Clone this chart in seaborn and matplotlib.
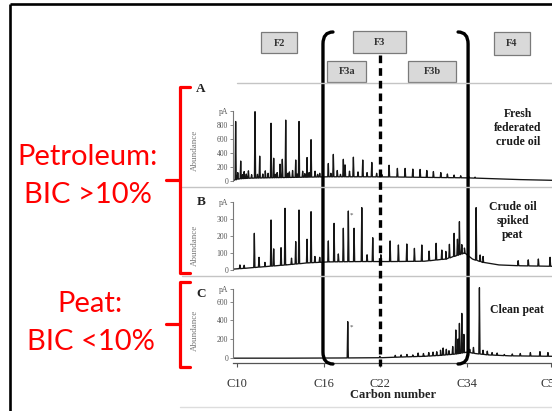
import numpy as np
import pandas as pd
import matplotlib
matplotlib.use("Agg")
import matplotlib.pyplot as plt
import seaborn as sns
from matplotlib.patches import Rectangle, PathPatch
from matplotlib.path import Path

sns.set_theme(style="white")
plt.rcParams["font.family"] = ["Liberation Serif", "DejaVu Serif"]

# ---------------------------------------------------------------- data
# carbon-number markers on the retention-time axis (min)
carbon_labels = ["C10", "C16", "C22", "C34", "C50"]
carbon_rt = [0.7, 17.1, 27.6, 44.0, 59.7]

# boiling-range fractions and where they sit along the retention axis
fraction_names = ["F2", "F3", "F4", "F3a", "F3b"]
fraction_rt = [8.7, 27.6, 52.4, 21.4, 37.4]

# A: fresh federated crude oil
a_base_rt = [0, 1, 3, 6, 10, 14, 18, 24, 30, 38, 44, 48, 54, 60]
a_base_pa = [5, 30, 40, 45, 50, 55, 60, 60, 58, 50, 45, 35, 20, 10]
a_peak_rt = [0.5, 0.9, 1.45, 1.8, 2.1, 2.5, 2.9, 3.5, 4.14, 4.6, 5.02, 5.6,
             6.07, 6.6, 7.15, 7.65, 8.0, 8.3, 8.84, 9.27, 9.91, 10.3, 10.6,
             11.2, 11.79, 12.1, 12.41, 13.1, 13.5, 13.92, 14.3, 14.67, 15.42,
             15.9, 16.3, 17.92, 18.4, 18.86, 19.6, 20.2, 20.74, 21.06, 21.9,
             22.63, 23.5, 24.39, 25.2, 26.09, 27.0, 28.0, 29.34, 30.9, 32.35,
             33.8, 35.17, 36.43, 37.67, 39.06, 40.3, 41.56, 42.8, 44.3, 45.5]
a_peak_pa = [850, 120, 285, 90, 135, 100, 145, 90, 990, 95, 355, 100,
             145, 110, 825, 325, 95, 120, 240, 310, 870, 110, 130,
             150, 300, 100, 850, 140, 105, 335, 120, 590, 140,
             95, 110, 250, 110, 380, 150, 95, 310, 230, 140,
             340, 130, 300, 120, 265, 110, 90, 225, 180, 180,
             170, 165, 150, 135, 120, 100, 85, 75, 65, 55]

# B: crude oil spiked peat
b_base_rt = [0, 3, 6, 10, 14, 18, 24, 30, 36, 40, 42, 43.5, 45, 47, 50, 54, 60]
b_base_pa = [5, 12, 20, 30, 42, 48, 50, 50, 52, 65, 85, 100, 65, 45, 30, 25, 22]
b_peak_rt = [1.3, 2.1, 4.01, 4.89, 6.0, 7.15, 7.65, 9.03, 9.78, 11.0, 11.79,
             12.41, 13.92, 14.67, 15.4, 16.3, 17.92, 19.0, 19.8, 20.74, 21.68,
             22.76, 24.21, 25.2, 26.27, 27.8, 29.53, 31.09, 32.67, 34.1, 35.49,
             36.86, 38.18, 39.25, 40.0, 40.68, 41.56, 42.19, 42.56, 43.01, 43.5,
             45.7, 46.45, 47.0, 53.6, 55.5, 57.4, 59.6]
b_peak_pa = [30, 28, 217, 75, 45, 296, 125, 132, 365, 70, 168,
             355, 182, 345, 80, 75, 172, 276, 95, 247, 349,
             247, 369, 90, 191, 90, 172, 148, 154, 128, 148,
             112, 158, 118, 110, 152, 217, 182, 286, 150, 130,
             369, 89, 80, 55, 60, 65, 75]

# C: clean peat
c_base_rt = [0, 10, 20, 28, 32, 36, 39, 42, 44, 45.5, 48, 52, 60]
c_base_pa = [-5, -5, -3, 0, 8, 15, 25, 40, 60, 45, 30, 20, 15]
c_peak_rt = [21.57, 27.6, 30.5, 31.6, 32.7, 33.8, 34.8, 35.8, 36.8, 37.6, 38.3,
             39.0, 39.5, 40.1, 40.6, 41.3, 41.88, 42.3, 42.56, 43.01, 43.4,
             44.5, 45.2, 46.32, 47.0, 47.8, 48.7, 49.65, 51.0, 52.5, 54.0,
             55.9, 57.7, 59.2]
c_peak_pa = [386, 15, 25, 30, 35, 30, 50, 45, 55, 60, 64,
             80, 104, 90, 75, 120, 297, 200, 368, 475, 250,
             90, 110, 750, 80, 70, 55, 50, 35, 40, 45,
             55, 65, 55]

# y ticks per panel (top tick carries the unit)
a_yticks = [0, 200, 400, 600, 800, 1000]
b_yticks = [0, 100, 200, 300, 400]
c_yticks = [0, 200, 400, 600, 735]

sample_names = ["Fresh\nfederated\ncrude oil", "Crude oil\nspiked\npeat", "Clean peat"]
panel_letters = ["A", "B", "C"]

# ---------------------------------------------------------------- helpers
W, H = 552, 411


def trace(base_rt, base_pa, peak_rt, peak_pa, half=0.11):
    """Chromatogram trace: baseline with narrow spikes at the listed peaks."""
    xs = list(base_rt)
    ys = list(base_pa)
    for rt, pa in zip(peak_rt, peak_pa):
        foot = float(np.interp(rt, base_rt, base_pa))
        xs += [rt - half, rt, rt + half]
        ys += [foot, pa, foot]
    order = np.argsort(xs, kind="stable")
    return pd.DataFrame({"rt": np.asarray(xs)[order], "pA": np.asarray(ys)[order]})


def rect(left, top, right, bottom):
    return [left / W, 1 - bottom / H, (right - left) / W, (bottom - top) / H]


fig = plt.figure(figsize=(W / 100, H / 100), dpi=100)
fig.patch.set_facecolor("white")

# panel geometry in pixels: (top, bottom, px per pA, zero-line y)
panels = [
    (108, 187, 0.0700, 181.0),
    (200, 276, 0.1690, 270.0),
    (285, 363, 0.0933, 357.7),
]
traces = [
    trace(a_base_rt, a_base_pa, a_peak_rt, a_peak_pa),
    trace(b_base_rt, b_base_pa, b_peak_rt, b_peak_pa),
    trace(c_base_rt, c_base_pa, c_peak_rt, c_peak_pa),
]
ytick_sets = [a_yticks, b_yticks, c_yticks]
tick_grey = "#555555"

axes = []
for (top, bottom, k, zero), df, yt in zip(panels, traces, ytick_sets):
    ax = fig.add_axes(rect(233, top, 552.2, bottom))
    sns.lineplot(data=df, x="rt", y="pA", ax=ax, color="#151515",
                 linewidth=0.95, estimator=None, sort=False)
    ax.set_xlim(0, 60)
    ax.set_ylim((zero - bottom) / k, (zero - top) / k)
    ax.set_facecolor("none")
    for s in ["top", "right", "bottom"]:
        ax.spines[s].set_visible(False)
    ax.spines["left"].set_color("#777777")
    ax.spines["left"].set_linewidth(0.8)
    ax.spines["left"].set_bounds(yt[0], yt[-1])
    ax.set_yticks(yt)
    ax.set_yticklabels([str(v) for v in yt[:-1]] + ["pA"])
    ax.tick_params(axis="y", which="both", left=True, length=2, width=0.6,
                   color="#777777", pad=1.5, labelsize=5.5, labelcolor=tick_grey)
    ax.set_xticks([])
    ax.set_xlabel("")
    ax.set_ylabel("")
    axes.append(ax)

axC = axes[2]
axC.spines["bottom"].set_visible(True)
axC.spines["bottom"].set_color("#555555")
axC.spines["bottom"].set_linewidth(0.9)
axC.set_xticks(carbon_rt)
axC.set_xticklabels(carbon_labels)
axC.tick_params(axis="x", bottom=True, length=3, width=0.8, color="#555555",
                pad=8, labelsize=9, labelcolor="#333333")
axC.set_xlabel("Carbon number", fontsize=9, fontweight="bold", color="#222222",
               labelpad=-1)

# ---------------------------------------------------------------- overlay
ov = fig.add_axes([0, 0, 1, 1])
ov.set_xlim(0, W)
ov.set_ylim(H, 0)
ov.axis("off")
ov.patch.set_alpha(0)
ov.set_zorder(10)

fig.canvas.draw()


def xpix(rt):
    return axC.transData.transform((rt, 0))[0]


# slide frame
ov.plot([9.5, 9.5], [4.5, H], color="black", lw=1.9, solid_capstyle="butt")
ov.plot([9.5, W], [4.5, 4.5], color="black", lw=1.9, solid_capstyle="butt")

# separators between panels
sep = "#c4c4c4"
ov.plot([237, W], [83, 83], color=sep, lw=1.0)
ov.plot([182, W], [187, 187], color=sep, lw=1.0)
ov.plot([182, W], [276, 276], color=sep, lw=1.0)
ov.plot([180, W], [407, 407], color="#dddddd", lw=1.0)

# fraction boxes
box_geom = {"F2": (36, 21, 42.5), "F3": (53, 22, 42), "F4": (36, 23, 43.5),
            "F3a": (39, 21, 71.5), "F3b": (48, 21, 71.5)}
for name, rt in zip(fraction_names, fraction_rt):
    w, h, yc = box_geom[name]
    xc = xpix(rt)
    ov.add_patch(Rectangle((xc - w / 2, yc - h / 2), w, h, facecolor="#d9d9d9",
                           edgecolor="#7a7a7a", lw=0.9))
    ov.text(xc, yc + 0.5, name, ha="center", va="center", fontsize=7.5,
            fontweight="bold", color="#333333")

# F3 brackets at C16 and C34, split line at C22
for rt, sgn in [(carbon_rt[1], 1), (carbon_rt[3], -1)]:
    x = xpix(rt) - sgn * 1
    verts = [(x + sgn * 10, 32), (x, 32), (x, 44), (x, 352), (x, 364), (x + sgn * 10, 364)]
    codes = [Path.MOVETO, Path.CURVE3, Path.CURVE3, Path.LINETO, Path.CURVE3, Path.CURVE3]
    ov.add_patch(PathPatch(Path(verts, codes), facecolor="none", edgecolor="black",
                           lw=2.4, capstyle="round"))
x22 = xpix(carbon_rt[2])
ov.plot([x22, x22], [55, 366], color="black", lw=2.4,
        linestyle=(0, (2.3, 1.5)), dash_capstyle="butt")

# panel letters, axis titles, sample names
for letter, y in zip(panel_letters, [89, 202, 294]):
    ov.text(201, y, letter, ha="center", va="center", fontsize=9.5,
            fontweight="bold", color="#222222")
for yc in [150, 245, 330]:
    ov.text(195, yc, "Abundance", rotation=90, ha="center", va="center",
            fontsize=6.5, color="#777777")
for name, (x, y) in zip(sample_names, [(518, 128), (513, 221), (517, 310)]):
    ov.text(x, y, name, ha="center", va="center", fontsize=8.5,
            fontweight="bold", color="#1a1a1a", linespacing=1.2)

# markers for the internal standard
ov.text(xpix(22.3), 215, "*", ha="center", va="center", fontsize=5, color="#444444")
ov.text(xpix(22.2), 327, "*", ha="center", va="center", fontsize=5, color="#444444")

# red braces grouping the panels
red = "#ff0000"
for top, mid, bot in [(87, 180, 273), (282, 324, 367)]:
    ov.plot([190, 180, 180, 180, 190], [top, top, mid, bot, bot], color=red, lw=2.3,
            solid_joinstyle="round", solid_capstyle="round")
    ov.plot([166, 180], [mid, mid], color=red, lw=2.3, solid_capstyle="round")

label_font = ["Lato", "DejaVu Sans"]
for txt, x, y in [("Petroleum:", 88, 165), ("BIC >10%", 88, 203),
                  ("Peat:", 90, 312), ("BIC <10%", 91, 350)]:
    ov.text(x, y, txt, ha="center", va="baseline", fontsize=21, color=red,
            family=label_font)

fig.savefig("out.png", dpi=100, facecolor="white")
